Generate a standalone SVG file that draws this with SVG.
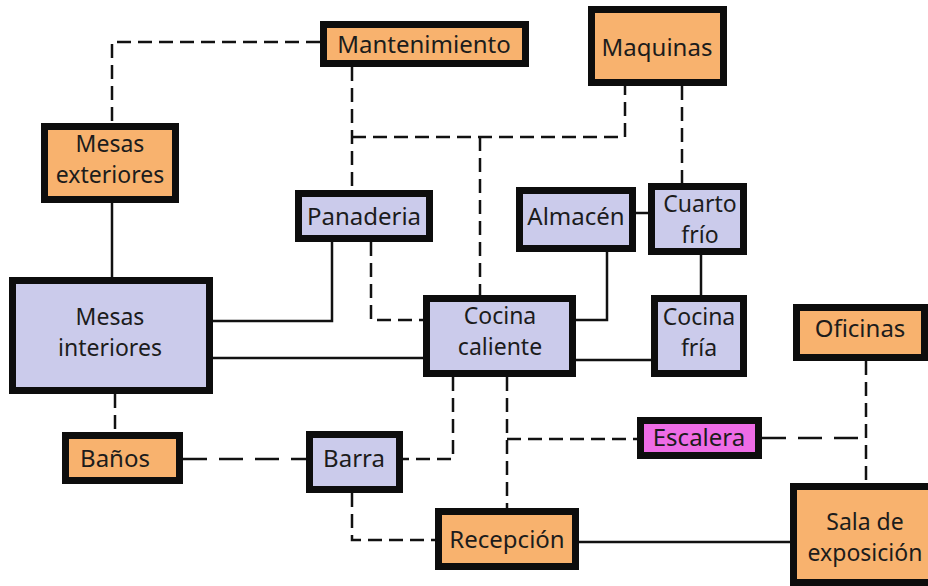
<svg xmlns="http://www.w3.org/2000/svg" width="928" height="586" viewBox="0 0 928 586">
<style>
.bx{stroke:#0d0d0d;stroke-width:7}
.or{fill:#F8B26E}
.lv{fill:#CBCBEB}
.pk{fill:#EE6CE6}
.t{font-family:"Noto Sans","DejaVu Sans",sans-serif;font-size:24px;fill:#1c1c1c;text-anchor:middle}
.t2{font-size:23px}
.s{fill:none;stroke:#111;stroke-width:2.5}
.d{fill:none;stroke:#111;stroke-width:2.5;stroke-dasharray:14 7}
.dl{fill:none;stroke:#111;stroke-width:2.5;stroke-dasharray:24 12}
</style>
<rect width="928" height="586" fill="#fff"/>
<g id="connectors">
<path class="d" d="M320,42 H112 V123"/>
<path class="d" d="M352,67 V190"/>
<path class="d" d="M352,137 H625 V86"/>
<path class="d" d="M480,137 V295"/>
<path class="d" d="M682,86 V183"/>
<path class="s" d="M112,203 V277"/>
<path class="s" d="M213,321 H332 V242"/>
<path class="s" d="M213,358 H423"/>
<path class="d" d="M371,242 V320 H423"/>
<path class="s" d="M607,252 V320 H576"/>
<path class="s" d="M636,213 H648"/>
<path class="s" d="M701,255 V295"/>
<path class="s" d="M576,360 H651"/>
<path class="d" d="M453,377 V459 H403"/>
<path class="d" d="M507,377 V508"/>
<path class="d" d="M507,439 H637"/>
<path class="dl" d="M762,438 H866"/>
<path class="d" d="M866,361 V483"/>
<path class="d" d="M115,394 V432"/>
<path class="dl" d="M183,459 H306"/>
<path class="d" d="M352,493 V540 H435"/>
<path class="s" d="M579,542 H790"/>
</g>
<g id="mantenimiento"><rect class="bx or" x="323.5" y="24.5" width="202" height="39"/><text class="t" x="424" y="53">Mantenimiento</text></g>
<g id="maquinas"><rect class="bx or" x="591.5" y="9.5" width="132" height="73"/><text class="t" x="657" y="56">Maquinas</text></g>
<g id="mesas-exteriores"><rect class="bx or" x="44.5" y="126.5" width="131" height="73"/><text class="t t2" x="110" y="152">Mesas</text><text class="t t2" x="110" y="183">exteriores</text></g>
<g id="panaderia"><rect class="bx lv" x="298.5" y="193.5" width="131" height="45"/><text class="t" x="364" y="225">Panaderia</text></g>
<g id="almacen"><rect class="bx lv" x="519.5" y="190.5" width="113" height="58"/><text class="t" x="576" y="225">Almacén</text></g>
<g id="cuarto-frio"><rect class="bx lv" x="651.5" y="186.5" width="92" height="65"/><text class="t t2" x="700" y="212">Cuarto</text><text class="t t2" x="700" y="243">frío</text></g>
<g id="mesas-interiores"><rect class="bx lv" x="12.5" y="280.5" width="197" height="110"/><text class="t t2" x="110" y="325">Mesas</text><text class="t t2" x="110" y="356">interiores</text></g>
<g id="cocina-caliente"><rect class="bx lv" x="426.5" y="298.5" width="146" height="75"/><text class="t t2" x="500" y="324">Cocina</text><text class="t t2" x="500" y="355">caliente</text></g>
<g id="cocina-fria"><rect class="bx lv" x="654.5" y="298.5" width="89" height="75"/><text class="t t2" x="699" y="325">Cocina</text><text class="t t2" x="699" y="356">fría</text></g>
<g id="oficinas"><rect class="bx or" x="796.5" y="307.5" width="128" height="50"/><text class="t" x="860" y="337">Oficinas</text></g>
<g id="banos"><rect class="bx or" x="65.5" y="435.5" width="114" height="45"/><text class="t" x="115" y="467">Baños</text></g>
<g id="barra"><rect class="bx lv" x="309.5" y="434.5" width="90" height="55"/><text class="t" x="354" y="467">Barra</text></g>
<g id="escalera"><rect class="bx pk" x="640.5" y="420.5" width="118" height="35"/><text class="t" x="699" y="446">Escalera</text></g>
<g id="recepcion"><rect class="bx or" x="438.5" y="511.5" width="137" height="55"/><text class="t" x="507" y="548">Recepción</text></g>
<g id="sala-exposicion"><rect class="bx or" x="793.5" y="486.5" width="150" height="96"/><text class="t t2" x="865" y="530">Sala de</text><text class="t t2" x="865" y="561">exposición</text></g>
</svg>
